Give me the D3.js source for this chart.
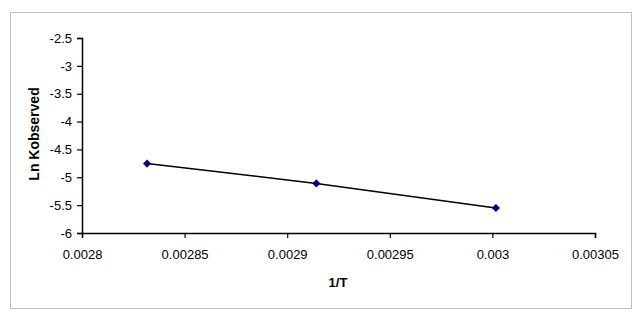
<!DOCTYPE html>
<html>
<head>
<meta charset="utf-8">
<script src="https://cdn.jsdelivr.net/npm/d3@7"></script>
<style>
  body { margin: 0; background: #fff; }
  text { font-family: "Liberation Sans", Arial, sans-serif; }
</style>
</head>
<body>
<svg width="639" height="322"></svg>
<script>
// data: 1/T against Ln Kobserved
var invT = [0.0028317, 0.0029142, 0.0030017];
var lnK = [-4.754, -5.11, -5.55];
var xTicks = [0.0028, 0.00285, 0.0029, 0.00295, 0.003, 0.00305];
var yTicks = [-2.5, -3, -3.5, -4, -4.5, -5, -5.5, -6];

var svg = d3.select("svg");

// chart border
svg.append("rect")
    .attr("x", 10.5).attr("y", 12.5)
    .attr("width", 621).attr("height", 296)
    .attr("fill", "#fff")
    .attr("stroke", "#bfbfbf")
    .attr("stroke-width", 1);

var x = d3.scaleLinear().domain([0.0028, 0.00305]).range([82, 595]);
var y = d3.scaleLinear().domain([-6, -2.5]).range([233, 38]);

var xAxis = svg.append("g")
    .attr("transform", "translate(0,233)")
    .call(d3.axisBottom(x).tickValues(xTicks).tickSize(5).tickPadding(12)
        .tickFormat(function(d) { return String(+d.toFixed(5)); }));

var yAxis = svg.append("g")
    .attr("transform", "translate(82,0)")
    .call(d3.axisLeft(y).tickValues(yTicks).tickSize(5).tickPadding(5)
        .tickFormat(function(d) { return String(d); }));

[xAxis, yAxis].forEach(function(g) {
    g.select(".domain").attr("stroke", "#000").attr("stroke-width", 1.5);
    g.selectAll(".tick line").attr("stroke", "#000").attr("stroke-width", 1.2);
    g.selectAll(".tick text")
        .attr("fill", "#000")
        .style("font-family", "'Liberation Sans', Arial, sans-serif")
        .style("font-size", "13px");
});

// axis titles
svg.append("text")
    .attr("x", 338).attr("y", 287)
    .attr("text-anchor", "middle")
    .style("font-size", "13px").style("font-weight", "bold")
    .text("1/T");

svg.append("text")
    .attr("transform", "translate(39,134) rotate(-90)")
    .attr("text-anchor", "middle")
    .style("font-size", "14px").style("font-weight", "bold")
    .text("Ln Kobserved");

var pts = invT.map(function(d, i) { return [d, lnK[i]]; });

svg.append("path")
    .datum(pts)
    .attr("fill", "none")
    .attr("stroke", "#000")
    .attr("stroke-width", 1.5)
    .attr("d", d3.line()
        .x(function(d) { return x(d[0]); })
        .y(function(d) { return y(d[1]); }));

svg.selectAll(".pt")
    .data(pts)
    .enter()
    .append("path")
    .attr("class", "pt")
    .attr("transform", function(d) { return "translate(" + x(d[0]) + "," + y(d[1]) + ")"; })
    .attr("d", "M0,-3.8L3.8,0L0,3.8L-3.8,0Z")
    .attr("fill", "#000080")
    .attr("stroke", "#000080")
    .attr("stroke-width", 0.5);
</script>
</body>
</html>
